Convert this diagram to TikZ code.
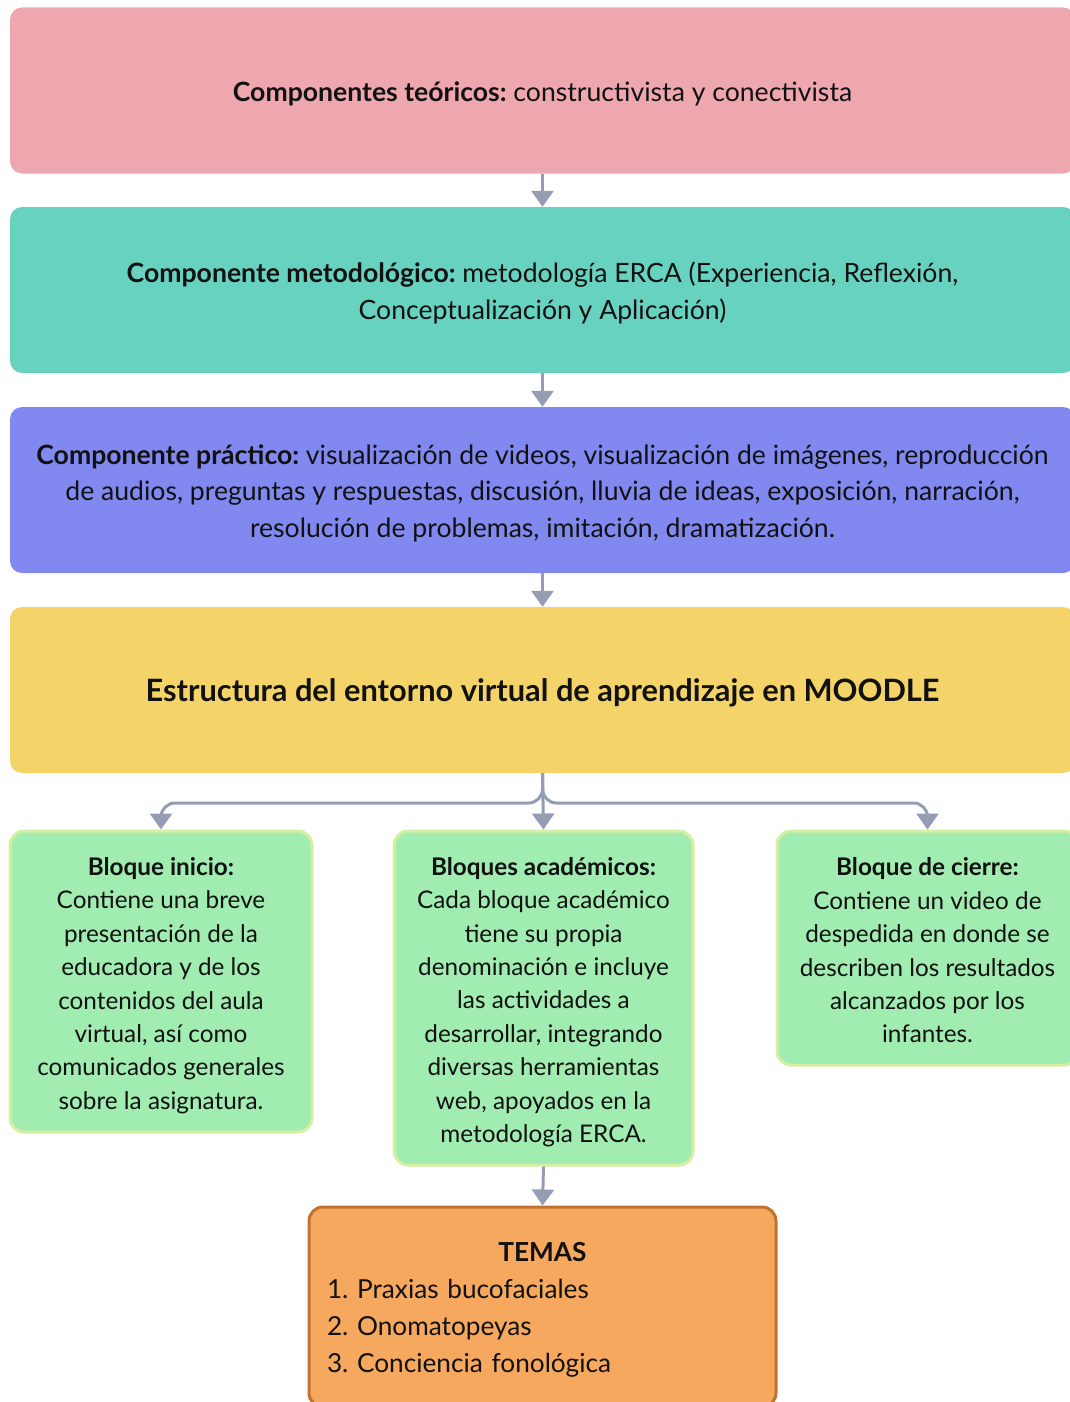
\documentclass[tikz,border=0pt]{standalone}
\usepackage{fontspec}
\setmainfont{Lato}
\frenchspacing
\usetikzlibrary{arrows.meta}
\definecolor{cpink}{HTML}{EFA7AF}
\definecolor{cteal}{HTML}{68D2C0}
\definecolor{cblue}{HTML}{8189F0}
\definecolor{cyel}{HTML}{F4D469}
\definecolor{cgreen}{HTML}{A1ECB1}
\definecolor{cgreenb}{HTML}{D6EFA2}
\definecolor{corange}{HTML}{F5A85E}
\definecolor{corangeb}{HTML}{C2722F}
\definecolor{carrow}{HTML}{949DB3}
\definecolor{ctext}{HTML}{111111}
\tikzset{
  topbox/.style={rounded corners=12pt, minimum width=1065pt, minimum height=166pt, inner sep=0pt},
  toptext/.style={align=center, inner sep=0pt, text=ctext, yshift=-3pt,
    font=\fontsize{26.6}{36.5}\selectfont\frenchspacing},
  greenbox/.style={fill=cgreen, draw=cgreenb, line width=3pt, rounded corners=14pt, inner sep=0pt},
  greentext/.style={align=center, inner sep=0pt, text=ctext, yshift=-4pt,
    font=\fontsize{24.3}{33.4}\selectfont\frenchspacing},
  conn/.style={draw=carrow, line width=3pt, -{Triangle[width=22pt,length=16pt]}},
}
\begin{document}
\begin{tikzpicture}[x=1pt,y=-1pt]
\useasboundingbox (0,0) rectangle (1070,1402);
\clip (0,0) rectangle (1070,1402);

% boxes
\node[topbox, fill=cpink] (teo) at (542.5,90.5) {};
\node[topbox, fill=cteal] (met) at (542.5,290) {};
\node[topbox, fill=cblue] (pra) at (542.5,490) {};
\node[topbox, fill=cyel] (est) at (542.5,690) {};
\node[greenbox, minimum width=302pt, minimum height=301pt] (g1) at (161,981.5) {};
\node[greenbox, minimum width=299pt, minimum height=334pt] (g2) at (543.5,998) {};
\node[greenbox, minimum width=301pt, minimum height=234pt] (g3) at (927.5,948) {};
\node[fill=corange, draw=corangeb, line width=3pt, rounded corners=14pt,
  minimum width=467pt, minimum height=200pt, inner sep=0pt] (temas) at (542.5,1307) {};

% texts
\node[toptext] (teoT) at (teo.center)
  {\textbf{Componentes teóricos:} constructivista y conectivista};
\node[toptext] (metT) at (met.center)
  {\textbf{Componente metodológico:} metodología ERCA (Experiencia, Reflexión,\\
   Conceptualización y Aplicación)};
\node[toptext] (praT) at (pra.center)
  {\textbf{Componente práctico:} visualización de videos, visualización de imágenes, reproducción\\
   de audios, preguntas y respuestas, discusión, lluvia de ideas, exposición, narración,\\
   resolución de problemas, imitación, dramatización.};
\node[toptext, font=\fontsize{30.8}{36}\selectfont\bfseries] (estT) at (est.center)
  {Estructura del entorno virtual de aprendizaje en MOODLE};

\node[greentext] (g1T) at (g1.center)
  {\textbf{Bloque inicio:}\\ Contiene una breve\\ presentación de la\\ educadora y de los\\
   contenidos del aula\\ virtual, así como\\ comunicados generales\\ sobre la asignatura.};
\node[greentext] (g2T) at (g2.center)
  {\textbf{Bloques académicos:}\\ Cada bloque académico\\ tiene su propia\\ denominación e incluye\\
   las actividades a\\ desarrollar, integrando\\ diversas herramientas\\ web, apoyados en la\\ metodología ERCA.};
\node[greentext, yshift=1.5pt] (g3T) at (g3.center)
  {\textbf{Bloque de cierre:}\\ Contiene un video de\\ despedida en donde se\\ describen los resultados\\
   alcanzados por los\\ infantes.};

\node[text width=431pt, align=left, inner sep=0pt, text=ctext, yshift=-3pt,
  font=\fontsize{26.2}{37}\selectfont\frenchspacing] (temasT) at (temas.center)
  {\makebox[431pt][c]{\bfseries TEMAS}\\ 1. Praxias bucofaciales\\ 2. Onomatopeyas\\ 3. Conciencia fonológica};

% connectors
\coordinate (split) at (542.5,803);
\draw[conn] (teo.south) -- (met.north);
\draw[conn] (met.south) -- (pra.north);
\draw[conn] (pra.south) -- (est.north);
\draw[conn, rounded corners=14pt] (est.south) |- (g1.north |- split) -- (g1.north);
\draw[conn, rounded corners=14pt] (est.south) |- (g3.north |- split) -- (g3.north);
\draw[conn] (est.south) -- (g2.north);
\draw[conn] (g2.south) -- (temas.north);
\end{tikzpicture}
\end{document}
